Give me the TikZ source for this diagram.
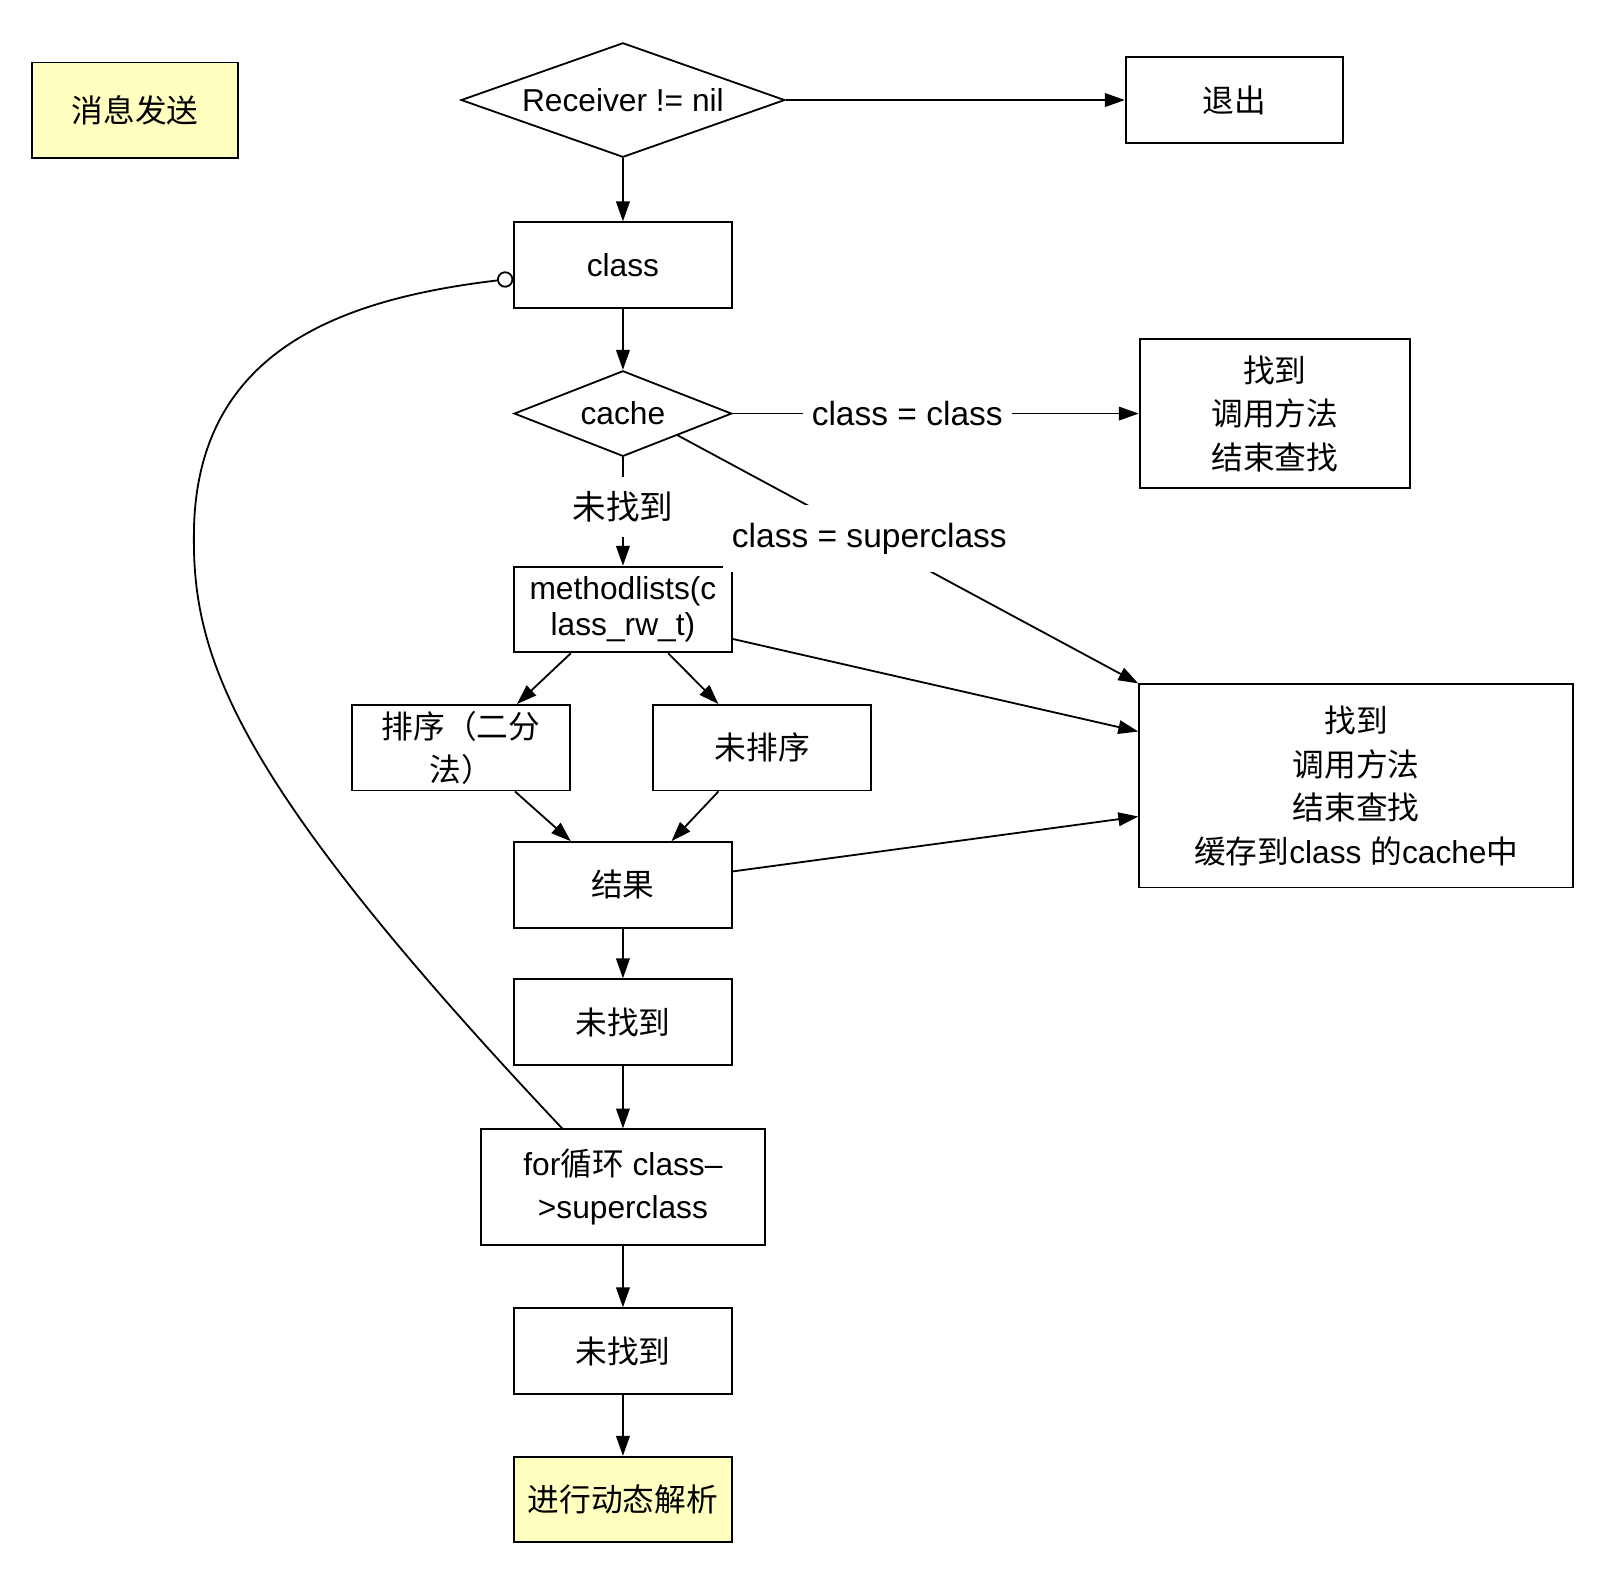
\documentclass[tikz,border=0pt]{standalone}
\usepackage{fontspec}
\setmainfont{Liberation Sans}
\newfontfamily\cjk{Noto Sans CJK SC}
\usetikzlibrary{shapes.geometric,arrows.meta}
\definecolor{noteyellow}{HTML}{FFFFC0}
\tikzset{
	box/.style={draw,minimum width=4.22cm,minimum height=1.66cm,align=center,inner sep=2pt},
	decision/.style={draw,diamond,inner sep=0pt},
	lbl/.style={fill=white,inner xsep=5pt,inner ysep=10pt,font=\fontsize{18.5}{24}\selectfont},
}
\begin{document}
\begin{tikzpicture}[x=0.02cm, y=-0.02cm, line width=1pt, >={Triangle[length=11pt,width=7.5pt]}, every node/.style={font=\fontsize{17.5}{24}\selectfont}]
				\useasboundingbox (0,0) rectangle (1563,1532);

				\node[box,fill=noteyellow,minimum width=4cm,minimum height=1.86cm] (msg) at (131,107) {\cjk 消息发送};
				\node[decision,shape aspect=2.83,minimum width=6.28cm,minimum height=2.22cm] (recv) at (604,97) {Receiver != nil};
				\node[box] (quit) at (1197,97) {\cjk 退出};
				\node[box] (class) at (604,257) {class};
				\node[decision,shape aspect=2.54,minimum width=4.22cm,minimum height=1.66cm] (cache) at (604,401) {cache};
				\node[box,minimum width=5.24cm,minimum height=2.9cm] (found) at (1236,401) {\cjk 找到\\\cjk 调用方法\\\cjk 结束查找};
				\node[box] (ml) at (604,591) {methodlists(c\\[-4pt]lass\_rw\_t)};
				\node[box] (sort) at (447,725) {\cjk 排序（二分\\\cjk 法）};
				\node[box] (uns) at (739,725) {\cjk 未排序};
				\node[box,minimum width=8.42cm,minimum height=3.94cm] (big) at (1315,762) {\cjk 找到\\\cjk 调用方法\\\cjk 结束查找\\{\cjk 缓存到}class {\cjk 的}cache{\cjk 中}};
				\node[box] (res) at (604,858) {\cjk 结果};
				\node[box] (nf1) at (604,991) {\cjk 未找到};
				\node[box,minimum width=5.52cm,minimum height=2.24cm] (for) at (604,1151) {for{\cjk 循环} class–\\>superclass};
				\node[box] (nf2) at (604,1310) {\cjk 未找到};
				\node[box,fill=noteyellow] (dyn) at (604,1454) {\cjk 进行动态解析};

				\draw[->] (recv) -- (quit);
				\draw[->] (recv) -- (class);
				\draw[->] (class) -- (cache);
				\draw[->] (cache) -- node[lbl,pos=0.43] {class = class} (found);
				\draw[->] (cache.south east) -- node[lbl,pos=0.416] {class = superclass} (big.north west);
				\draw[->] (cache) -- node[lbl,pos=0.455,inner ysep=8pt] {\cjk 未找到} (ml);
				\draw[->] (ml.-15) -- (big.166);
				\draw[->] (ml.220) -- (sort.38.6);
				\draw[->] (ml.-44) -- (uns.135);
				\draw[->] (sort.-39) -- (res.140);
				\draw[->] (uns.225) -- (res.42);
				\draw[->] (res.7.5) -- (big.188);
				\draw[->] (res) -- (nf1);
				\draw[->] (nf1) -- (for);
				\draw[->] (for) -- (nf2);
				\draw[->] (nf2) -- (dyn);

				\draw[-{Circle[open,length=9pt]}] (for.136.5) .. controls (230,760) and (187,640) .. (188,520) .. controls (188,340) and (330,290) .. (class.187.5);

			\end{tikzpicture}
\end{document}
